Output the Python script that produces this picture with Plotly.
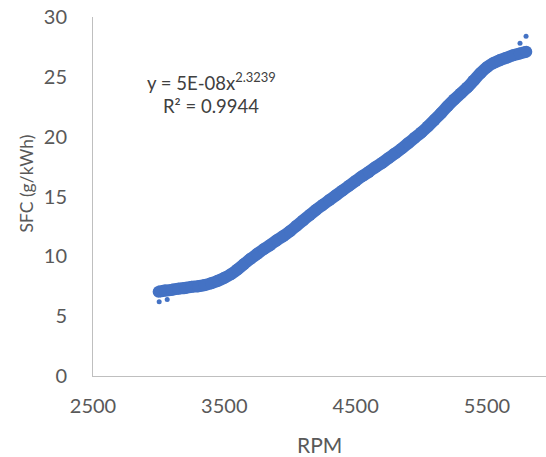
import plotly.graph_objects as go

# Centreline of the dense band of measured points (RPM, SFC g/kWh)
rpm = [3000, 3050, 3100, 3150, 3200, 3250, 3300, 3350, 3400, 3450,
       3500, 3550, 3600, 3650, 3700, 3750, 3800, 3850, 3900, 3950,
       4000, 4050, 4100, 4150, 4200, 4250, 4300, 4350, 4400, 4450,
       4500, 4550, 4600, 4650, 4700, 4750, 4800, 4850, 4900, 4950,
       5000, 5050, 5100, 5150, 5200, 5250, 5300, 5350, 5400, 5450,
       5500, 5550, 5600, 5650, 5700, 5750, 5800]
sfc = [7.05, 7.15, 7.2, 7.3, 7.35, 7.45, 7.5, 7.6, 7.75, 7.95,
       8.2, 8.5, 8.9, 9.35, 9.8, 10.2, 10.6, 10.95, 11.35, 11.7,
       12.1, 12.55, 13.0, 13.45, 13.9, 14.3, 14.7, 15.1, 15.5, 15.9,
       16.3, 16.7, 17.05, 17.45, 17.8, 18.2, 18.6, 19.0, 19.45, 19.9,
       20.35, 20.85, 21.4, 21.95, 22.55, 23.1, 23.6, 24.1, 24.7, 25.3,
       25.8, 26.15, 26.4, 26.6, 26.8, 26.95, 27.1]

# Scattered outliers
out_rpm = [3004, 3065, 5752, 5798]
out_sfc = [6.2, 6.4, 27.8, 28.4]

x_ticks = [2500, 3500, 4500, 5500]
y_ticks = [0, 5, 10, 15, 20, 25, 30]

blue = "#4472C4"
grey_txt = "#595959"
FONT = "Lato, 'Open Sans', sans-serif"

fig = go.Figure()
fig.add_trace(go.Scatter(x=rpm, y=sfc, mode="lines+markers",
                         line=dict(color=blue, width=12, shape="spline"),
                         marker=dict(color=blue, size=12),
                         hoverinfo="skip", showlegend=False))
fig.add_trace(go.Scatter(x=out_rpm, y=out_sfc, mode="markers",
                         marker=dict(color=blue, size=5),
                         hoverinfo="skip", showlegend=False))

fig.update_layout(
    width=546, height=457,
    margin=dict(l=93, r=0, t=17, b=81),
    paper_bgcolor="white", plot_bgcolor="white",
    font=dict(family=FONT, color=grey_txt, size=20),
    xaxis=dict(range=[2500, 5950], tickvals=x_ticks, showgrid=False,
               zeroline=False, showline=True, linecolor="#BFBFBF", linewidth=1,
               ticks="", ticklabelstandoff=12,
               tickfont=dict(size=20, color=grey_txt)),
    yaxis=dict(range=[0, 30], tickvals=y_ticks, showgrid=False,
               zeroline=False, showline=True, linecolor="#BFBFBF", linewidth=1,
               ticks="", ticklabelstandoff=21,
               tickfont=dict(size=20, color=grey_txt)),
    annotations=[
        dict(text="RPM", xref="paper", yref="paper", x=0.5, y=0,
             yshift=-68, xanchor="center", yanchor="middle", showarrow=False,
             font=dict(size=21, color=grey_txt)),
        dict(text="SFC (g/kWh)", xref="paper", yref="paper", x=0, y=0.5,
             xshift=-67, yshift=13, textangle=-90, xanchor="center",
             yanchor="middle", showarrow=False,
             font=dict(size=17.5, color=grey_txt)),
        dict(text="y = 5E-08x<sup>2.3239</sup>", xref="x", yref="y",
             x=3400, y=24.6, xanchor="center", yanchor="middle",
             showarrow=False, font=dict(size=18.5, color="#404040")),
        dict(text="R² = 0.9944", xref="x", yref="y",
             x=3400, y=22.6, xanchor="center", yanchor="middle",
             showarrow=False, font=dict(size=18.5, color="#404040")),
    ],
)

fig.write_html("out.html")
